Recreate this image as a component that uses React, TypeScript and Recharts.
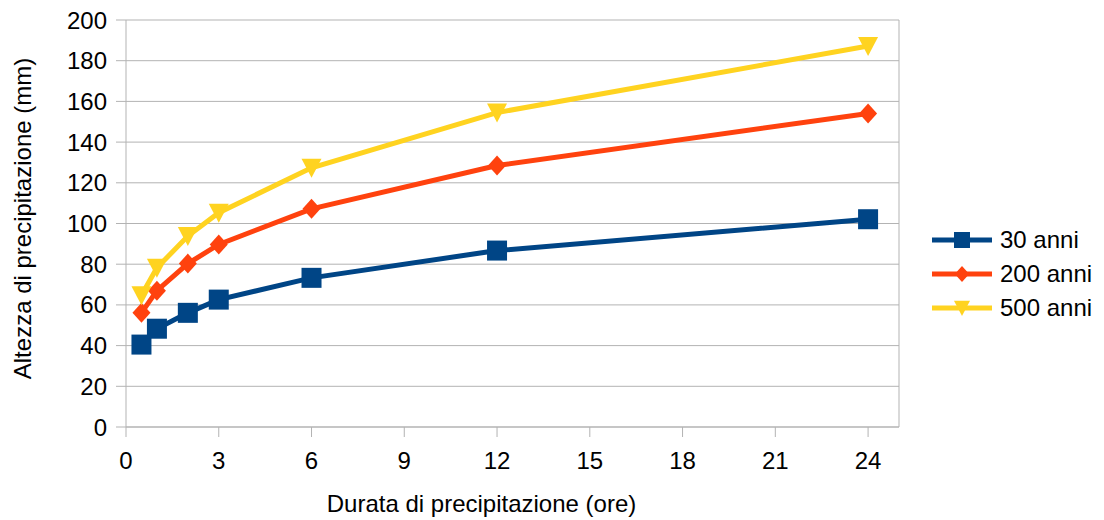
import React from 'react';
import {
  LineChart, Line, XAxis, YAxis, CartesianGrid, Legend, ReferenceLine,
} from 'recharts';

// durata (ore) e altezze (mm)
const durations = [0.5, 1, 2, 3, 6, 12, 24];
const anni30 = [40.5, 48.3, 56.1, 62.6, 73.3, 86.7, 102.1];
const anni200 = [56.1, 67, 80.3, 89.7, 107.2, 128.5, 154.1];
const anni500 = [64.7, 78.2, 93.8, 105.3, 127.4, 154.5, 187.2];
const xTicks = [0, 3, 6, 9, 12, 15, 18, 21, 24];
const yTicks = [0, 20, 40, 60, 80, 100, 120, 140, 160, 180, 200];

const series = [
  { key: 'a30', name: '30 anni', color: '#004586', shape: 'square' },
  { key: 'a200', name: '200 anni', color: '#ff420e', shape: 'diamond' },
  { key: 'a500', name: '500 anni', color: '#ffd320', shape: 'triangle' },
];

const data = durations.map((d, i) => ({
  ore: d,
  a30: anni30[i],
  a200: anni200[i],
  a500: anni500[i],
}));

const GRID = '#b3b3b3';
const FONT = '"Liberation Sans", Arial, sans-serif';
const FS = 24;

function Marker({ cx, cy, shape, color, r = 10 }: any) {
  if (cx == null || cy == null) return null;
  if (shape === 'square') {
    return <rect x={cx - r} y={cy - r} width={2 * r} height={2 * r} fill={color} />;
  }
  if (shape === 'diamond') {
    const w = r * 0.9;
    return <polygon points={`${cx},${cy - r} ${cx + w},${cy} ${cx},${cy + r} ${cx - w},${cy}`} fill={color} />;
  }
  return <polygon points={`${cx - r},${cy - r * 0.9} ${cx + r},${cy - r * 0.9} ${cx},${cy + r}`} fill={color} />;
}

function makeDot(shape: string, color: string) {
  return (props: any) => (
    <Marker key={`${shape}-${props.index}`} cx={props.cx} cy={props.cy} shape={shape} color={color} />
  );
}

function LegendContent() {
  return (
    <div style={{ fontFamily: FONT, fontSize: FS, color: '#000', lineHeight: 1 }}>
      {series.map(s => (
        <div key={s.key} style={{ display: 'flex', alignItems: 'center', height: 34 }}>
          <svg width={62} height={22} style={{ display: 'block' }}>
            <line x1={1} y1={11} x2={61} y2={11} stroke={s.color} strokeWidth={5} />
            <Marker cx={31} cy={11} shape={s.shape} color={s.color} r={8} />
          </svg>
          <span style={{ marginLeft: 7 }}>{s.name}</span>
        </div>
      ))}
    </div>
  );
}

export default function App() {
  return (
    <div style={{ position: 'absolute', left: 0, top: 0, width: 1104, height: 520, background: '#fff', fontFamily: FONT }}>
      <LineChart width={1104} height={520} data={data} margin={{ top: 20, right: 205, bottom: 0, left: 0 }}>
        <CartesianGrid vertical={false} stroke={GRID} strokeWidth={1} />
        <XAxis
          dataKey="ore"
          type="number"
          domain={[0, 25]}
          ticks={xTicks}
          interval={0}
          height={93}
          stroke={GRID}
          tickSize={10}
          tickMargin={15}
          tick={{ fill: '#000', fontSize: FS, fontFamily: FONT }}
          label={{ value: 'Durata di precipitazione (ore)', position: 'center', dx: -31, dy: 30, fill: '#000', fontSize: FS, fontFamily: FONT }}
        />
        <YAxis
          type="number"
          domain={[0, 200]}
          ticks={yTicks}
          interval={0}
          width={126}
          stroke={GRID}
          tickSize={10}
          tickMargin={9}
          tick={{ fill: '#000', fontSize: FS, fontFamily: FONT }}
          label={{ value: 'Altezza di precipitazione (mm)', angle: -90, position: 'center', dx: -41, dy: -5, fill: '#000', fontSize: FS, fontFamily: FONT }}
        />
        <ReferenceLine x={25} stroke={GRID} />
        <Legend
          layout="horizontal"
          align="center"
          verticalAlign="middle"
          wrapperStyle={{ left: 931, top: 223, width: 180, right: 'auto' }}
          content={<LegendContent />}
        />
        {series.map(s => (
          <Line
            key={s.key}
            type="linear"
            dataKey={s.key}
            name={s.name}
            stroke={s.color}
            strokeWidth={5}
            dot={makeDot(s.shape, s.color)}
            activeDot={false}
            isAnimationActive={false}
          />
        ))}
      </LineChart>
    </div>
  );
}
